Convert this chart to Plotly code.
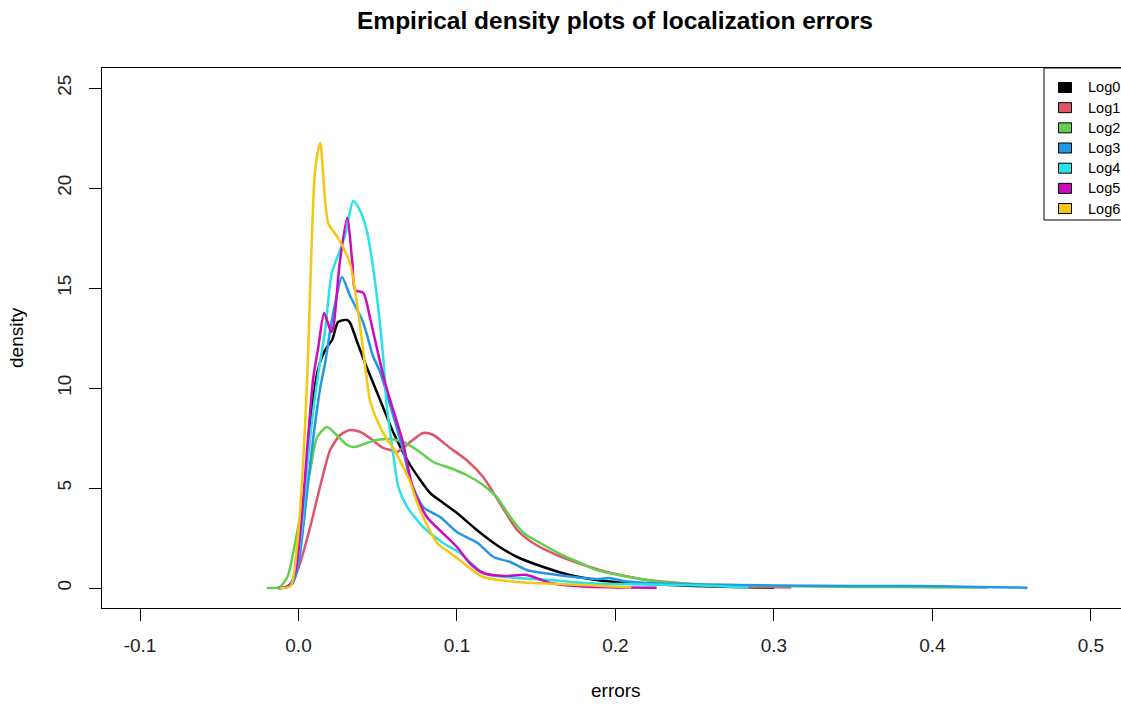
import plotly.graph_objects as go

names = ["Log0", "Log1", "Log2", "Log3", "Log4", "Log5", "Log6"]
colors = ["#000000", "#DF536B", "#61D04F", "#2297E6", "#28E2E5", "#CD0BBC", "#F5C710"]

log0_x = [-0.013, -0.008, -0.004, 0.0, 0.005, 0.0093, 0.0118, 0.015, 0.018, 0.0212, 0.025, 0.0307, 0.0326, 0.037, 0.043, 0.0515, 0.06, 0.0686, 0.0768, 0.083, 0.0913, 0.1, 0.1125, 0.125, 0.138, 0.1545, 0.171, 0.188, 0.2, 0.22, 0.25, 0.275, 0.3]
log0_y = [0.0, 0.03, 0.3, 1.8, 6.0, 9.4, 10.75, 11.6, 12.05, 12.4, 13.3, 13.4, 13.25, 12.3, 11.05, 9.4, 7.75, 6.4, 5.4, 4.75, 4.25, 3.75, 2.9, 2.15, 1.55, 1.05, 0.65, 0.4, 0.3, 0.2, 0.1, 0.05, 0.01]

log1_x = [-0.012, -0.008, -0.004, 0.001, 0.0074, 0.0137, 0.02, 0.0263, 0.0326, 0.039, 0.045, 0.0535, 0.058, 0.062, 0.0705, 0.0787, 0.085, 0.0957, 0.106, 0.1165, 0.127, 0.138, 0.148, 0.163, 0.18, 0.19, 0.2, 0.22, 0.24, 0.26, 0.28, 0.311]
log1_y = [0.0, 0.05, 0.25, 1.25, 3.05, 5.1, 6.9, 7.65, 7.9, 7.8, 7.5, 7.0, 6.9, 6.8, 7.3, 7.75, 7.65, 7.0, 6.4, 5.55, 4.25, 2.9, 2.25, 1.65, 1.15, 0.9, 0.7, 0.4, 0.25, 0.12, 0.07, 0.02]

log2_x = [-0.02, -0.012, -0.007, -0.0034, 0.001, 0.0074, 0.0118, 0.018, 0.024, 0.0307, 0.0357, 0.043, 0.0495, 0.058, 0.066, 0.0748, 0.085, 0.0957, 0.106, 0.1165, 0.125, 0.1336, 0.142, 0.1525, 0.169, 0.178, 0.188, 0.209, 0.23, 0.25, 0.3, 0.35, 0.4, 0.435]
log2_y = [0.0, 0.05, 0.55, 1.75, 3.55, 5.9, 7.55, 8.05, 7.65, 7.15, 7.05, 7.25, 7.4, 7.45, 7.3, 6.9, 6.3, 6.0, 5.65, 5.15, 4.55, 3.55, 2.75, 2.25, 1.55, 1.25, 0.9, 0.55, 0.3, 0.2, 0.1, 0.05, 0.04, 0.02]

log3_x = [-0.013, -0.008, -0.004, 0.0, 0.005, 0.0093, 0.0137, 0.0168, 0.02, 0.0232, 0.0274, 0.0326, 0.0407, 0.047, 0.0515, 0.06, 0.066, 0.0705, 0.0787, 0.0894, 0.1, 0.113, 0.123, 0.1336, 0.144, 0.159, 0.18, 0.19, 0.196, 0.205, 0.22, 0.25, 0.3, 0.35, 0.39, 0.42, 0.44, 0.46]
log3_y = [0.0, 0.02, 0.2, 1.2, 4.5, 7.5, 10.0, 11.25, 12.9, 14.25, 15.55, 14.6, 13.3, 11.6, 10.8, 8.55, 6.9, 5.4, 4.05, 3.55, 2.8, 2.25, 1.55, 1.3, 0.9, 0.7, 0.5, 0.45, 0.5, 0.35, 0.25, 0.18, 0.13, 0.1, 0.1, 0.06, 0.04, 0.01]

log4_x = [-0.012, -0.006, -0.002, 0.002, 0.006, 0.0095, 0.0125, 0.0168, 0.021, 0.0263, 0.03, 0.0345, 0.038, 0.043, 0.0495, 0.0545, 0.0553, 0.06, 0.063, 0.0686, 0.0787, 0.0913, 0.102, 0.1165, 0.138, 0.159, 0.18, 0.2, 0.24, 0.27, 0.284]
log4_y = [0.0, 0.1, 0.8, 3.0, 6.5, 9.0, 10.75, 12.9, 15.75, 16.9, 17.8, 19.35, 19.0, 17.9, 14.55, 10.5, 9.4, 6.55, 5.05, 4.05, 3.05, 2.25, 1.75, 0.75, 0.5, 0.4, 0.25, 0.2, 0.15, 0.08, 0.02]

log5_x = [-0.012, -0.006, -0.002, 0.002, 0.006, 0.0093, 0.0125, 0.0162, 0.0206, 0.022, 0.026, 0.0307, 0.034, 0.0357, 0.041, 0.045, 0.0545, 0.066, 0.072, 0.081, 0.091, 0.1, 0.108, 0.1165, 0.13, 0.144, 0.159, 0.18, 0.2, 0.226]
log5_y = [0.0, 0.1, 0.8, 3.5, 7.5, 10.5, 12.05, 13.75, 12.8, 13.05, 16.25, 18.5, 16.25, 14.9, 14.75, 13.55, 10.3, 7.25, 5.05, 3.55, 2.75, 2.05, 1.25, 0.75, 0.6, 0.65, 0.25, 0.07, 0.03, 0.01]

log6_x = [-0.012, -0.005, -0.001, 0.0023, 0.0055, 0.0086, 0.0105, 0.0137, 0.0187, 0.025, 0.0326, 0.038, 0.043, 0.045, 0.0495, 0.056, 0.0598, 0.066, 0.0705, 0.0736, 0.0787, 0.0874, 0.0957, 0.104, 0.1165, 0.138, 0.18, 0.21]
log6_y = [0.0, 0.1, 2.05, 5.4, 10.5, 17.9, 20.9, 22.25, 18.25, 17.5, 16.2, 13.6, 10.5, 9.4, 8.4, 7.4, 7.0, 6.05, 5.3, 4.55, 3.55, 2.25, 1.75, 1.25, 0.55, 0.3, 0.15, 0.02]

series_x = [log0_x, log1_x, log2_x, log3_x, log4_x, log5_x, log6_x]
series_y = [log0_y, log1_y, log2_y, log3_y, log4_y, log5_y, log6_y]

x_ticks = [-0.1, 0.0, 0.1, 0.2, 0.3, 0.4, 0.5]
x_ticktext = ["-0.1", "0.0", "0.1", "0.2", "0.3", "0.4", "0.5"]
y_ticks = [0, 5, 10, 15, 20, 25]

FONT = "Liberation Sans"
W, H = 1121, 704
L, R, T, B = 102, 0, 68, 96
PW = W - L - R
PH = H - T - B


def px2paper_x(px):
    return (px - L) / PW


def px2paper_y(py):
    return (H - B - py) / PH


fig = go.Figure()
for nm, col, xs, ys in zip(names, colors, series_x, series_y):
    fig.add_trace(go.Scatter(x=xs, y=ys, mode="lines", name=nm,
                             line=dict(color=col, width=2.5, shape="spline", smoothing=0.7),
                             showlegend=False, hoverinfo="skip"))

# legend box (R style, cropped at right edge)
shapes = [dict(type="rect", xref="paper", yref="paper",
               x0=px2paper_x(1044), x1=px2paper_x(1140), y0=px2paper_y(220), y1=px2paper_y(68),
               line=dict(color="black", width=1), fillcolor="white", layer="above")]
annotations = []
for i, (nm, col) in enumerate(zip(names, colors)):
    cy = 87.5 + i * 20.17
    shapes.append(dict(type="rect", xref="paper", yref="paper",
                       x0=px2paper_x(1058.5), x1=px2paper_x(1071.5),
                       y0=px2paper_y(cy + 5), y1=px2paper_y(cy - 5),
                       line=dict(color="black", width=1), fillcolor=col, layer="above"))
    annotations.append(dict(text=nm, xref="paper", yref="paper", x=px2paper_x(1086), y=px2paper_y(cy),
                            xanchor="left", yanchor="middle", showarrow=False,
                            font=dict(family=FONT, size=14.5, color="black")))

annotations.append(dict(text="errors", xref="paper", yref="paper", x=px2paper_x(615.5), y=px2paper_y(690),
                        xanchor="center", yanchor="middle", showarrow=False,
                        font=dict(family=FONT, size=19, color="black")))
annotations.append(dict(text="density", xref="paper", yref="paper", x=px2paper_x(16), y=px2paper_y(338),
                        xanchor="center", yanchor="middle", showarrow=False, textangle=-90,
                        font=dict(family=FONT, size=19, color="black")))

fig.update_layout(
    width=W, height=H,
    margin=dict(l=L, r=R, t=T, b=B, autoexpand=False),
    paper_bgcolor="white", plot_bgcolor="white",
    title=dict(text="<b>Empirical density plots of localization errors</b>",
               xref="container", yref="container", x=615 / W, y=1 - 20 / H,
               xanchor="center", yanchor="middle",
               font=dict(family=FONT, size=24.5, color="black")),
    shapes=shapes, annotations=annotations,
    showlegend=False,
    xaxis=dict(range=[-0.124, 0.519], tickvals=x_ticks, ticktext=x_ticktext,
               showgrid=False, zeroline=False, showline=True, linecolor="black", linewidth=1,
               mirror=True, ticks="outside", ticklen=12, tickcolor="black", tickwidth=1,
               ticklabelstandoff=8,
               tickfont=dict(family=FONT, size=19, color="#222222")),
    yaxis=dict(range=[-1.0, 26.0], tickvals=y_ticks,
               showgrid=False, zeroline=False, showline=True, linecolor="black", linewidth=1,
               ticks="outside", ticklen=12, tickcolor="black", tickwidth=1, tickangle=-90,
               ticklabelstandoff=10,
               tickfont=dict(family=FONT, size=19, color="#222222")),
)

fig.write_html("out.html",
               config={"displayModeBar": False},
               post_script="document.body.style.margin='0';"
                           "document.body.style.overflow='hidden';"
                           "document.documentElement.style.overflow='hidden';")
